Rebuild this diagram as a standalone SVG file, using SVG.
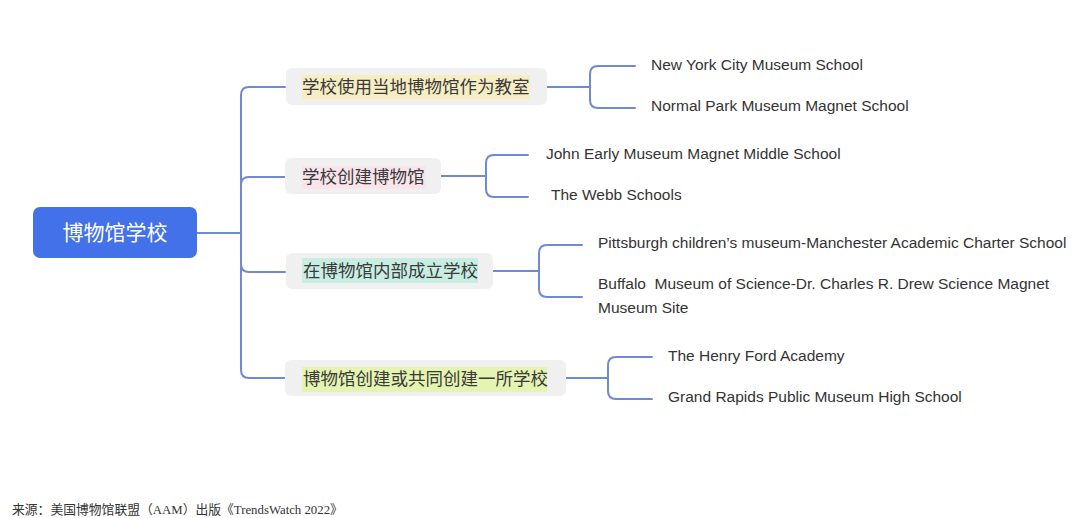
<svg xmlns="http://www.w3.org/2000/svg" width="1080" height="518" viewBox="0 0 1080 518">
<style>
.ln{fill:none;stroke:#6f89d4;stroke-width:2;stroke-linecap:round}
.box{fill:#f0f0f1}
.cjk{font-family:"Noto Sans CJK SC","Noto Sans",sans-serif;font-size:17.5px;fill:#3a3a3a}
.leaf{font-family:"Liberation Sans",Arial,sans-serif;font-size:15.5px;fill:#333}
.foot{font-family:"Liberation Serif","Noto Sans CJK SC",serif;font-size:12.8px;fill:#333}
</style>
<rect width="1080" height="518" fill="#ffffff"/>
<g id="connectors">
<path class="ln" d="M197 233 H241"/>
<path class="ln" d="M241 233 V95 Q241 87 249 87 H285"/>
<path class="ln" d="M241 233 V185 Q241 177 249 177 H285"/>
<path class="ln" d="M241 233 V264 Q241 272 249 272 H285"/>
<path class="ln" d="M241 233 V370 Q241 378 249 378 H285"/>
<path class="ln" d="M547 87 H590"/>
<path class="ln" d="M590 87 V74 Q590 66 598 66 H635"/>
<path class="ln" d="M590 87 V100 Q590 108 598 108 H635"/>
<path class="ln" d="M441 176 H486"/>
<path class="ln" d="M486 176 V163 Q486 155 494 155 H528"/>
<path class="ln" d="M486 176 V189 Q486 197 494 197 H528"/>
<path class="ln" d="M493 271 H539"/>
<path class="ln" d="M539 271 V253 Q539 245 547 245 H582"/>
<path class="ln" d="M539 271 V289 Q539 297 547 297 H582"/>
<path class="ln" d="M566 378 H608"/>
<path class="ln" d="M608 378 V365 Q608 357 616 357 H652"/>
<path class="ln" d="M608 378 V391 Q608 399 616 399 H652"/>
</g>
<g id="root">
<rect x="33" y="207" width="164" height="51" rx="7" fill="#4271e9"/>
<text x="115" y="240" text-anchor="middle" font-family="Noto Sans CJK SC,sans-serif" font-size="21" fill="#ffffff">博物馆学校</text>
</g>
<g id="branch1">
<rect class="box" x="286" y="68" width="261" height="37" rx="6"/>
<rect x="302" y="75" width="228" height="24" fill="#f7edc2"/>
<text class="cjk" x="302" y="93">学校使用当地博物馆作为教室</text>
</g>
<g id="branch2">
<rect class="box" x="285" y="158" width="156" height="36" rx="6"/>
<rect x="302" y="166" width="124" height="23" fill="#f9e4ec"/>
<text class="cjk" x="302" y="183">学校创建博物馆</text>
</g>
<g id="branch3">
<rect class="box" x="286" y="253" width="207" height="36" rx="6"/>
<rect x="302" y="258" width="176" height="25" fill="#c8eee4"/>
<text class="cjk" x="303" y="277">在博物馆内部成立学校</text>
</g>
<g id="branch4">
<rect class="box" x="285" y="360" width="281" height="36" rx="6"/>
<rect x="302" y="367" width="245" height="25" fill="#e6f4b2"/>
<text class="cjk" x="303" y="385">博物馆创建或共同创建一所学校</text>
</g>
<g id="leaf1"><text class="leaf" x="651" y="70">New York City Museum School</text></g>
<g id="leaf2"><text class="leaf" x="651" y="111">Normal Park Museum Magnet School</text></g>
<g id="leaf3"><text class="leaf" x="546" y="159">John Early Museum Magnet Middle School</text></g>
<g id="leaf4"><text class="leaf" x="551" y="200">The Webb Schools</text></g>
<g id="leaf5"><text class="leaf" x="598" y="248">Pittsburgh children’s museum-Manchester Academic Charter School</text></g>
<g id="leaf6"><text class="leaf" x="598" y="289" xml:space="preserve">Buffalo  Museum of Science-Dr. Charles R. Drew Science Magnet</text><text class="leaf" x="598" y="313">Museum Site</text></g>
<g id="leaf7"><text class="leaf" x="668" y="361">The Henry Ford Academy</text></g>
<g id="leaf8"><text class="leaf" x="668" y="402">Grand Rapids Public Museum High School</text></g>
<text class="foot" x="12" y="514">来源：美国博物馆联盟（AAM）出版《TrendsWatch 2022》</text>
</svg>
